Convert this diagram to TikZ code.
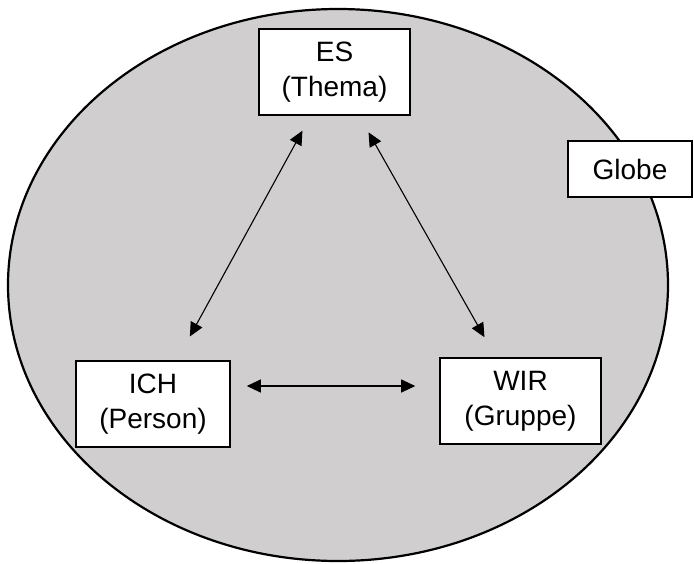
\documentclass[tikz,border=0pt]{standalone}
\usepackage{fontspec}
\setmainfont{Liberation Sans}
\usetikzlibrary{
  arrows.meta,
  positioning
}
\definecolor{globecolor}{RGB}{208, 206, 207}
\definecolor{linecolor}{RGB}{0, 0, 0}
\tikzset{
boxtext/.style={
  align=center,
  font=\fontsize{28}{35}\selectfont,
  text=linecolor
},
tcibox/.style={
  draw=linecolor,
  line width=1.6pt,
  fill=white,
  inner sep=0pt,
  minimum height=86pt,
  boxtext
},
labelbox/.style={
  draw=linecolor,
  line width=1.6pt,
  fill=white,
  inner sep=0pt,
  minimum width=124pt,
  minimum height=56pt,
  boxtext
},
globe/.style={
  draw=linecolor,
  line width=2.2pt,
  fill=globecolor
},
arrow/.style={
  {Triangle[length=14pt,width=13pt]}-{Triangle[length=14pt,width=13pt]},
  line width=1.1pt,
  draw=linecolor
}
}
\begin{document}
\begin{tikzpicture}[x=1pt, y=-1pt]
  \useasboundingbox (0,0) rectangle (694,563);

  % Globe
  \draw[globe] (338,285) ellipse [x radius=330, y radius=276];

  % Triangle: Thema, Person, Gruppe
  \node[tcibox, minimum width=151pt] (es) at (334.5,72) {ES\\(Thema)};
  \node[tcibox, minimum width=154pt] (ich) at (153,404) {ICH\\(Person)};
  \node[tcibox, minimum width=161pt] (wir) at (520.5,401) {WIR\\(Gruppe)};

  % Globe label
  \node[labelbox] (globelabel) at (630,169) {Globe};

  % Connections
  \draw[arrow, shorten <=17pt, shorten >=27pt] (es) -- (ich);
  \draw[arrow, shorten <=19pt, shorten >=23pt] (es) -- (wir);
  \draw[arrow] ([yshift=18pt, xshift=16pt]ich.east) -- ([yshift=15pt, xshift=-24pt]wir.west);
\end{tikzpicture}
\end{document}
